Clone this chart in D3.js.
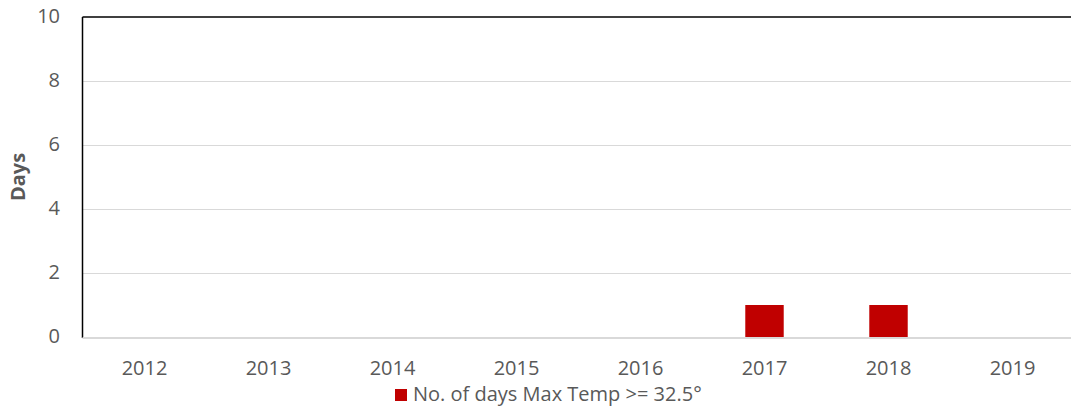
<!DOCTYPE html>
<html>
<head>
<meta charset="utf-8">
<script src="https://cdn.jsdelivr.net/npm/d3@7"></script>
<style>
  body { margin: 0; background: #fff; }
  text { font-family: "Open Sans", "Liberation Sans", sans-serif; fill: #595959; }
</style>
</head>
<body>
<div id="chart"></div>
<script>
// Данные
const years = ["2012", "2013", "2014", "2015", "2016", "2017", "2018", "2019"];
const hotDays = [0, 0, 0, 0, 0, 1, 1, 0];
const yTickValues = [0, 2, 4, 6, 8, 10];
const seriesName = "No. of days Max Temp >= 32.5°";

const width = 1071;
const height = 408;
const plotLeft = 82.5;
const plotTop = 17;
const plotBottom = 337;
const bandStep = 124;

const svg = d3.select("#chart").append("svg")
    .attr("width", width)
    .attr("height", height);

// Шкалы
const xScale = d3.scaleBand()
    .domain(years)
    .range([plotLeft, plotLeft + bandStep * years.length])
    .padding(0);

const yScale = d3.scaleLinear()
    .domain([0, 10])
    .range([plotBottom, plotTop]);

const plotRight = plotLeft + bandStep * years.length;

// Горизонтальные линии сетки
yTickValues.filter(v => v > 0 && v < 10).forEach(v => {
    svg.append("line")
        .attr("x1", plotLeft)
        .attr("x2", plotRight)
        .attr("y1", yScale(v) + 0.5)
        .attr("y2", yScale(v) + 0.5)
        .attr("stroke", "#d9d9d9")
        .attr("stroke-width", 1);
});

// Рамка: верх и левый край
svg.append("line")
    .attr("x1", plotLeft)
    .attr("x2", plotRight)
    .attr("y1", yScale(10))
    .attr("y2", yScale(10))
    .attr("stroke", "#000")
    .attr("stroke-width", 1.5);

svg.append("line")
    .attr("x1", plotLeft)
    .attr("x2", plotLeft)
    .attr("y1", yScale(10))
    .attr("y2", yScale(0) + 1)
    .attr("stroke", "#000")
    .attr("stroke-width", 1.5);

// Столбцы
const barWidth = xScale.bandwidth() * 0.31;
svg.selectAll(".bar")
    .data(years.map((y, i) => ({ year: y, value: hotDays[i] })))
    .enter()
    .append("rect")
    .attr("class", "bar")
    .attr("x", d => xScale(d.year) + (xScale.bandwidth() - barWidth) / 2)
    .attr("y", d => yScale(d.value))
    .attr("width", barWidth)
    .attr("height", d => yScale(0) - yScale(d.value))
    .attr("fill", "#c00000");

// Ось X (серая линия)
svg.append("line")
    .attr("x1", plotLeft)
    .attr("x2", plotRight)
    .attr("y1", yScale(0) + 1)
    .attr("y2", yScale(0) + 1)
    .attr("stroke", "#d9d9d9")
    .attr("stroke-width", 2);

// Подписи оси Y
svg.selectAll(".y-label")
    .data(yTickValues)
    .enter()
    .append("text")
    .attr("class", "y-label")
    .attr("x", 60)
    .attr("y", d => yScale(d) + 1)
    .attr("text-anchor", "end")
    .attr("dominant-baseline", "middle")
    .style("font-size", "20px")
    .text(d => d);

// Подписи оси X
svg.selectAll(".x-label")
    .data(years)
    .enter()
    .append("text")
    .attr("class", "x-label")
    .attr("x", d => xScale(d) + xScale.bandwidth() / 2)
    .attr("y", 375)
    .attr("text-anchor", "middle")
    .style("font-size", "20px")
    .text(d => d);

// Название оси Y
svg.append("text")
    .attr("transform", `translate(25, ${(plotTop + plotBottom) / 2}) rotate(-90)`)
    .attr("text-anchor", "middle")
    .style("font-size", "20px")
    .style("font-weight", "bold")
    .text("Days");

// Легенда
svg.append("rect")
    .attr("x", 395)
    .attr("y", 389)
    .attr("width", 12)
    .attr("height", 12)
    .attr("fill", "#c00000");

svg.append("text")
    .attr("x", 413)
    .attr("y", 401)
    .style("font-size", "20px")
    .text(seriesName);
</script>
</body>
</html>
